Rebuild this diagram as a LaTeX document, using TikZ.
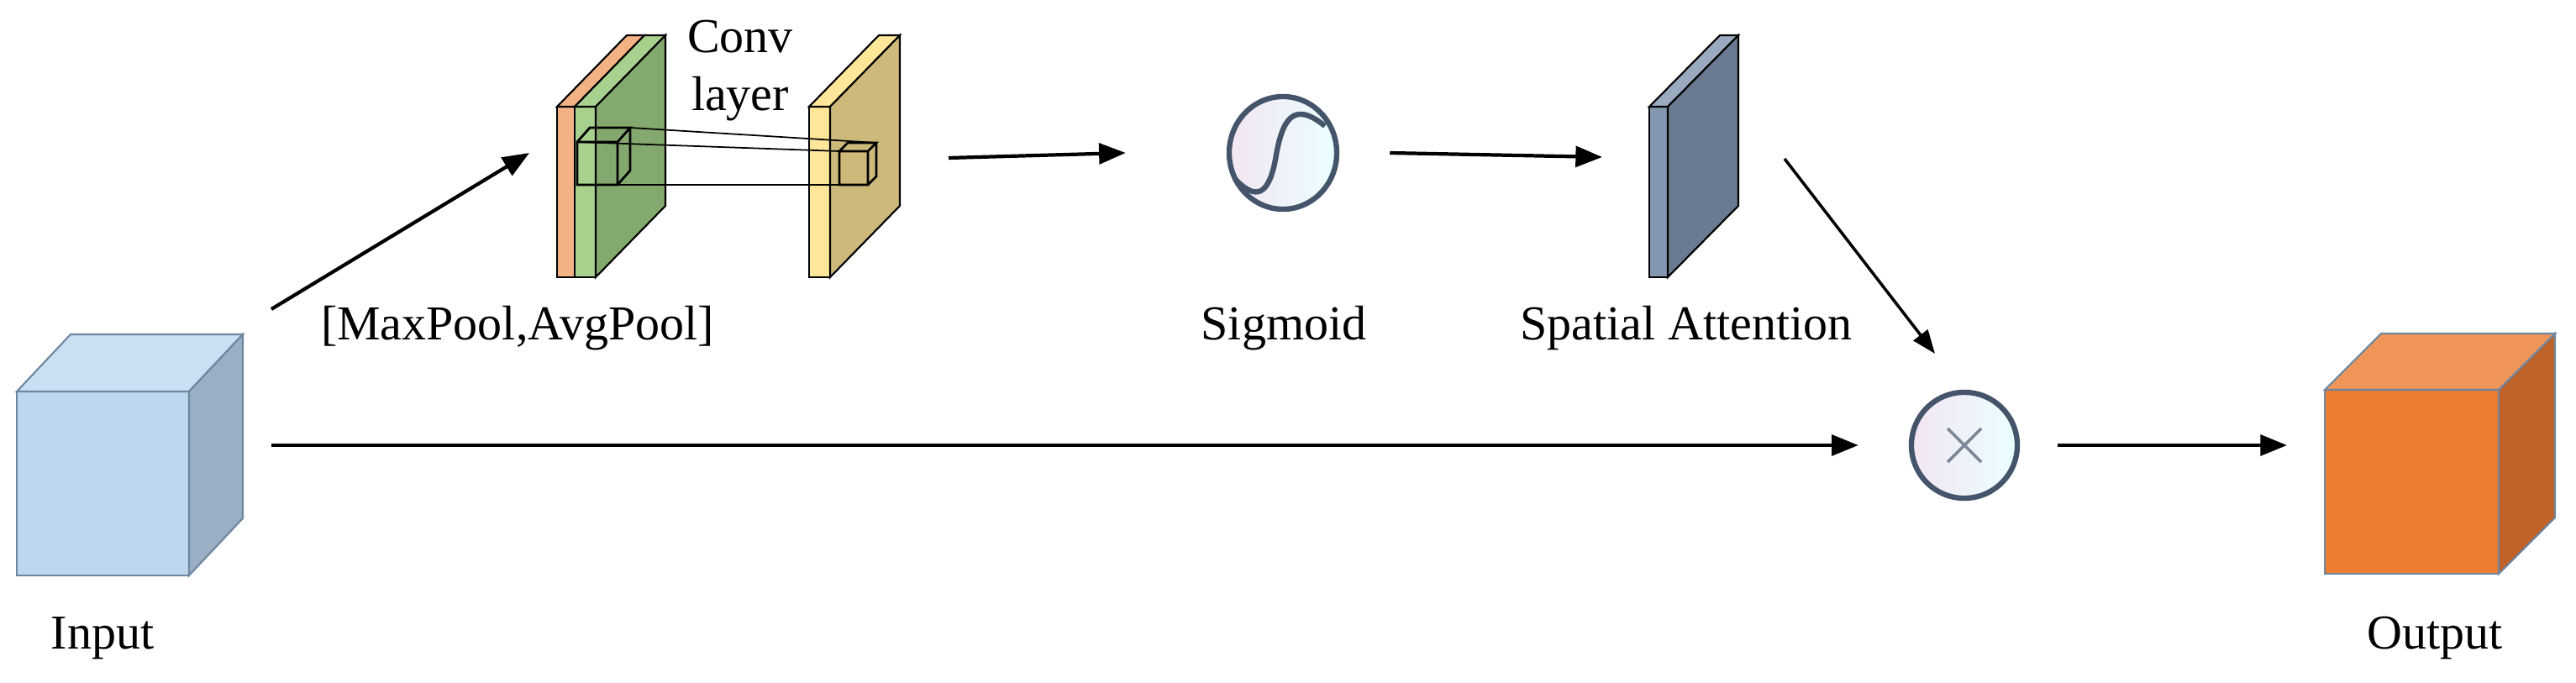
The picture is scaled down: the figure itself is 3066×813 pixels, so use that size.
\documentclass[tikz,border=0pt]{standalone}
\usepackage{fontspec}
\setmainfont{Liberation Serif}
\usetikzlibrary{arrows.meta,shapes.geometric}
\definecolor{inF}{HTML}{BDD7EE}\definecolor{inT}{HTML}{C9DFF2}\definecolor{inS}{HTML}{9AAFC4}
\definecolor{outF}{HTML}{ED7D31}\definecolor{outT}{HTML}{F0965A}\definecolor{outS}{HTML}{C0622A}
\definecolor{orF}{HTML}{F4B183}\definecolor{grF}{HTML}{A9D18E}\definecolor{grS}{HTML}{84A96E}
\definecolor{yeF}{HTML}{FFE699}\definecolor{yeS}{HTML}{CDB97A}
\definecolor{saF}{HTML}{8497B0}\definecolor{saS}{HTML}{6A7A90}\definecolor{saT}{HTML}{9AAAC0}
\definecolor{ring}{HTML}{44546A}\definecolor{edgeB}{HTML}{6F86A0}
\tikzset{
  lbl/.style={font=\fontsize{16.5}{19.5}\selectfont, inner sep=0pt, anchor=base},
  arr/.style={line width=1.2pt, -{Triangle[length=9pt,width=7pt]}},
  thinarr/.style={line width=1pt, -{Triangle[length=8pt,width=6pt]}},
  op/.style={ellipse, draw=ring, line width=1.8pt, left color=violet!10, right color=cyan!8, inner sep=0pt},
  face/.style={draw=black, line width=0.6pt},
  cube/.style={draw=edgeB, line width=0.6pt},
}
\begin{document}
\begin{tikzpicture}[x=0.01cm, y=-0.01cm]
\useasboundingbox (0,0) rectangle (3066,813);
% Input cube
\fill[inF] (20,466) rectangle (225,685);
\draw[cube, fill=inT] (20,466) -- (84,398) -- (289,398) -- (225,466) -- cycle;
\draw[cube, fill=inS] (225,466) -- (289,398) -- (289,617) -- (225,685) -- cycle;
\draw[cube] (20,466) rectangle (225,685);
\node[lbl] (inlbl) at (122,773) {Input};
% Conv slabs
\draw[face, fill=orF] (663,127) rectangle (684,330);
\draw[face, fill=orF] (663,127) -- (746,42) -- (767,42) -- (684,127) -- cycle;
\draw[face, fill=grF] (684,127) rectangle (709,330);
\draw[face, fill=grF] (684,127) -- (767,42) -- (792,42) -- (709,127) -- cycle;
\draw[face, fill=grS] (709,127) -- (792,42) -- (792,245) -- (709,330) -- cycle;
\draw[face, fill=yeF] (963,127) rectangle (988,330);
\draw[face, fill=yeF] (963,127) -- (1046,42) -- (1071,42) -- (988,127) -- cycle;
\draw[face, fill=yeS] (988,127) -- (1071,42) -- (1071,245) -- (988,330) -- cycle;
% small cubes
\draw[line width=0.8pt] (687,169) rectangle (735,220) (687,169) -- (702,152) -- (750,152) -- (735,169) (750,152) -- (750,203) -- (735,220);
\draw[line width=0.8pt] (999,180) rectangle (1033,220) (999,180) -- (1009,170) -- (1043,170) -- (1033,180) (1043,170) -- (1043,210) -- (1033,220);
\draw[line width=0.5pt] (750,152) -- (1043,170) (687,169) -- (999,180) (687,220) -- (999,220);
\coordinate (convIn) at (630,182);
\coordinate (convOut) at (1129,188);
\node[lbl] (conv) at (881,63) {Conv};
\node[lbl] at (881,132) {layer};
\node[lbl] (pool) at (616,405) {[MaxPool,AvgPool]};
% Sigmoid
\node[op, minimum width=1.28cm, minimum height=1.34cm] (sig) at (1527,182) {};
\draw[ring, line width=1.8pt] (1469,212) .. controls (1495,240) and (1510,232) .. (1518,190) .. controls (1526,140) and (1540,120) .. (1577,150);
\node[lbl] (siglbl) at (1528,405) {Sigmoid};
% Spatial attention slab
\draw[face, fill=saF] (1963,127) rectangle (1985,330);
\draw[face, fill=saT] (1963,127) -- (2047,42) -- (2069,42) -- (1985,127) -- cycle;
\draw[face, fill=saS] (1985,127) -- (2069,42) -- (2069,245) -- (1985,330) -- cycle;
\node[lbl] (salbl) at (2007,405) {Spatial Attention};
\coordinate (saIn) at (1907,187);
\coordinate (saOut) at (2124,189);
% Multiply
\node[op, minimum size=1.26cm] (mul) at (2338,530) {};
\draw[ring!70, line width=1pt] (2318,510) -- (2358,550) (2318,550) -- (2358,510);
% Output cube
\fill[outF] (2767,464) rectangle (2974,683);
\draw[cube, fill=outT] (2767,464) -- (2834,397) -- (3041,397) -- (2974,464) -- cycle;
\draw[cube, fill=outS] (2974,464) -- (3041,397) -- (3041,616) -- (2974,683) -- cycle;
\draw[cube] (2767,464) rectangle (2974,683);
\coordinate (outIn) at (2722,530);
\node[lbl] (outlbl) at (2898,773) {Output};
% connectors
\coordinate (inA) at (323,368);
\coordinate (inB) at (323,530);
\draw[arr] (inA) -- (convIn);
\draw[arr] (inB) -- ([xshift=-0.6cm]mul.west);
\draw[arr] (convOut) -- ([xshift=-1.2cm]sig.west);
\draw[arr] ([xshift=0.6cm]sig.east) -- (saIn);
\draw[thinarr] (saOut) -- (2303,421);
\draw[arr] ([xshift=0.45cm]mul.east) -- (outIn);
\end{tikzpicture}
\end{document}
